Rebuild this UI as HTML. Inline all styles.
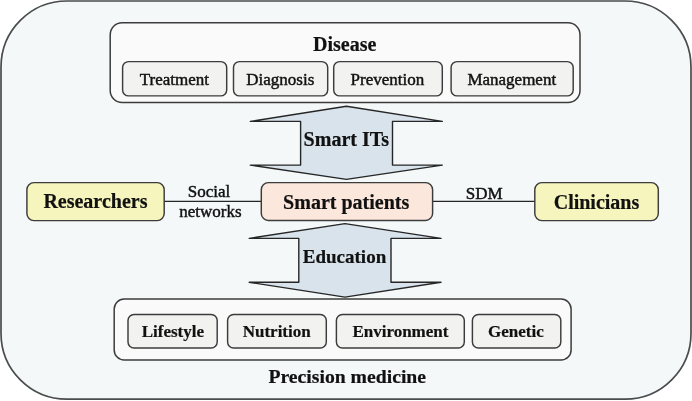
<!DOCTYPE html>
<html><head><meta charset="utf-8"><title>Smart patients diagram</title>
<style>
html,body{margin:0;padding:0;background:#ffffff;}
body{width:692px;height:401px;position:relative;overflow:hidden;}
svg{position:absolute;left:0;top:0;}
#wrap{position:absolute;left:0;top:0;width:692px;height:401px;filter:blur(0.3px);}
.t{position:absolute;white-space:nowrap;font-family:"Liberation Serif",serif;color:#111;-webkit-text-stroke:0.2px #111;}
</style></head><body><div id="wrap">
<svg width="692" height="401" viewBox="0 0 692 401">
<rect x="1.0" y="1.0" width="690.00" height="398.20" rx="66" fill="#f4f8f9" stroke="#4a4d4d" stroke-width="1.7"/>
<rect x="110.2" y="22.8" width="469.80" height="79.70" rx="12" fill="#fafafa" stroke="#3c3c3c" stroke-width="1.5"/>
<rect x="122.6" y="61.6" width="104.10" height="34.30" rx="6" fill="#f2f2f0" stroke="#3c3c3c" stroke-width="1.45"/>
<rect x="233.5" y="61.6" width="94.20" height="34.30" rx="6" fill="#f2f2f0" stroke="#3c3c3c" stroke-width="1.45"/>
<rect x="333.7" y="61.6" width="108.60" height="34.30" rx="6" fill="#f2f2f0" stroke="#3c3c3c" stroke-width="1.45"/>
<rect x="451.1" y="61.6" width="122.10" height="34.30" rx="6" fill="#f2f2f0" stroke="#3c3c3c" stroke-width="1.45"/>
<polygon points="346.4,106.3 442.3,121.4 392.5,121.4 392.5,165.1 442.3,165.1 346.4,179.4 250.3,165.1 300.6,165.1 300.6,121.4 250.3,121.4" fill="#d8e3ec" stroke="#262626" stroke-width="1.4" stroke-linejoin="round"/>
<polygon points="345.0,223.6 441.0,238.4 391.0,238.4 391.0,282.3 441.0,282.3 345.0,297.1 249.2,282.3 298.8,282.3 298.8,238.4 249.2,238.4" fill="#d8e3ec" stroke="#262626" stroke-width="1.4" stroke-linejoin="round"/>
<line x1="164" y1="201.4" x2="261" y2="201.4" stroke="#262626" stroke-width="1.4"/>
<line x1="433" y1="201.4" x2="535" y2="201.4" stroke="#262626" stroke-width="1.4"/>
<rect x="26.9" y="182.6" width="137.30" height="38.00" rx="7" fill="#f6f5bd" stroke="#3c3c3c" stroke-width="1.45"/>
<rect x="261.3" y="182.6" width="171.30" height="37.80" rx="7" fill="#fbe7db" stroke="#3c3c3c" stroke-width="1.45"/>
<rect x="534.8" y="182.6" width="123.50" height="38.00" rx="7" fill="#f6f5bd" stroke="#3c3c3c" stroke-width="1.45"/>
<rect x="114.2" y="299.0" width="456.90" height="60.90" rx="10" fill="#fafafa" stroke="#3c3c3c" stroke-width="1.5"/>
<rect x="128.0" y="314.4" width="89.20" height="33.60" rx="6" fill="#f2f2f0" stroke="#3c3c3c" stroke-width="1.45"/>
<rect x="227.6" y="314.4" width="98.70" height="33.60" rx="6" fill="#f2f2f0" stroke="#3c3c3c" stroke-width="1.45"/>
<rect x="336.4" y="314.4" width="127.90" height="33.60" rx="6" fill="#f2f2f0" stroke="#3c3c3c" stroke-width="1.45"/>
<rect x="472.4" y="314.4" width="88.40" height="33.60" rx="6" fill="#f2f2f0" stroke="#3c3c3c" stroke-width="1.45"/>
</svg>
<div class="t" style="left:313.00px;top:34.15px;font-size:20px;line-height:20px;font-weight:bold;-webkit-text-stroke:0.2px #111">Disease</div>
<div class="t" style="left:139.80px;top:70.56px;font-size:17px;line-height:17px;font-weight:normal;-webkit-text-stroke:0.45px #111">Treatment</div>
<div class="t" style="left:246.30px;top:70.56px;font-size:17px;line-height:17px;font-weight:normal;-webkit-text-stroke:0.45px #111">Diagnosis</div>
<div class="t" style="left:350.60px;top:70.56px;font-size:17px;line-height:17px;font-weight:normal;-webkit-text-stroke:0.45px #111">Prevention</div>
<div class="t" style="left:467.40px;top:70.56px;font-size:17px;line-height:17px;font-weight:normal;-webkit-text-stroke:0.45px #111">Management</div>
<div class="t" style="left:303.60px;top:128.85px;font-size:20px;line-height:20px;font-weight:bold;-webkit-text-stroke:0.2px #111">Smart ITs</div>
<div class="t" style="left:43.40px;top:191.25px;font-size:20px;line-height:20px;font-weight:bold;-webkit-text-stroke:0.2px #111">Researchers</div>
<div class="t" style="left:283.10px;top:191.55px;font-size:20px;line-height:20px;font-weight:bold;-webkit-text-stroke:0.2px #111">Smart patients</div>
<div class="t" style="left:553.70px;top:191.55px;font-size:20px;line-height:20px;font-weight:bold;-webkit-text-stroke:0.2px #111">Clinicians</div>
<div class="t" style="left:187.80px;top:182.66px;font-size:17px;line-height:17px;font-weight:normal;-webkit-text-stroke:0.45px #111">Social</div>
<div class="t" style="left:179.30px;top:202.66px;font-size:17px;line-height:17px;font-weight:normal;-webkit-text-stroke:0.45px #111">networks</div>
<div class="t" style="left:465.70px;top:185.06px;font-size:17px;line-height:17px;font-weight:normal;-webkit-text-stroke:0.45px #111">SDM</div>
<div class="t" style="left:302.80px;top:246.59px;font-size:19px;line-height:19px;font-weight:bold;-webkit-text-stroke:0.2px #111">Education</div>
<div class="t" style="left:141.70px;top:323.36px;font-size:17px;line-height:17px;font-weight:bold;-webkit-text-stroke:0.2px #111">Lifestyle</div>
<div class="t" style="left:242.70px;top:323.36px;font-size:17px;line-height:17px;font-weight:bold;-webkit-text-stroke:0.2px #111">Nutrition</div>
<div class="t" style="left:352.40px;top:323.36px;font-size:17px;line-height:17px;font-weight:bold;-webkit-text-stroke:0.2px #111">Environment</div>
<div class="t" style="left:488.00px;top:323.36px;font-size:17px;line-height:17px;font-weight:bold;-webkit-text-stroke:0.2px #111">Genetic</div>
<div class="t" style="left:268.40px;top:366.80px;font-size:19.7px;line-height:19.7px;font-weight:bold;-webkit-text-stroke:0.2px #111">Precision medicine</div>
</div></body></html>
